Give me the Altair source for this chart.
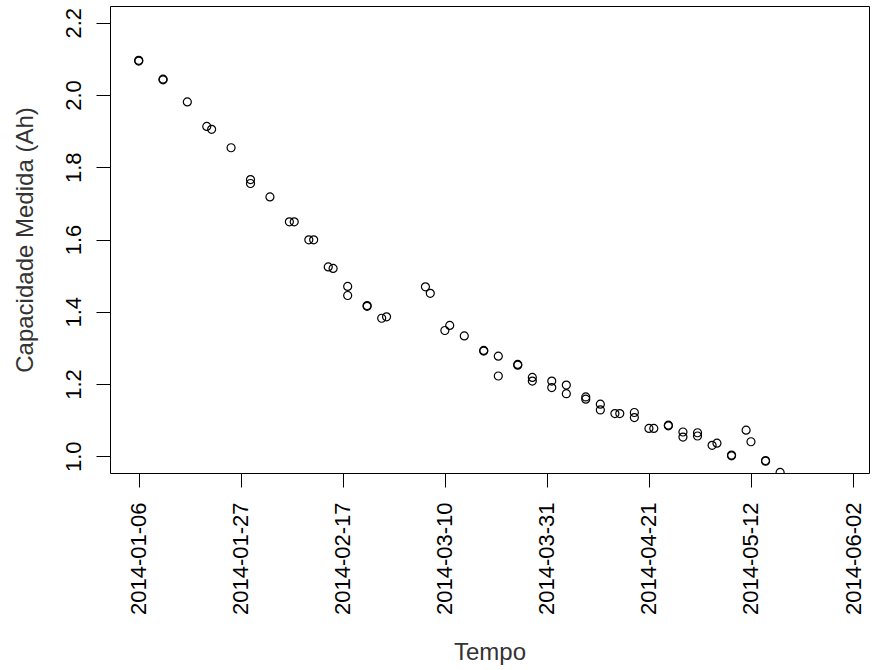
import altair as alt
import pandas as pd

# ---- data ----
dates = [
    "2014-01-06", "2014-01-06", "2014-01-11", "2014-01-11", "2014-01-16",
    "2014-01-20", "2014-01-21", "2014-01-25", "2014-01-29", "2014-01-29",
    "2014-02-02", "2014-02-06", "2014-02-07", "2014-02-10", "2014-02-11",
    "2014-02-14", "2014-02-15", "2014-02-18", "2014-02-18", "2014-02-22",
    "2014-02-22", "2014-02-25", "2014-02-26", "2014-03-06", "2014-03-07",
    "2014-03-10", "2014-03-11", "2014-03-14", "2014-03-18", "2014-03-18",
    "2014-03-21", "2014-03-21", "2014-03-25", "2014-03-25", "2014-03-28",
    "2014-03-28", "2014-04-01", "2014-04-01", "2014-04-04", "2014-04-04",
    "2014-04-08", "2014-04-08", "2014-04-11", "2014-04-11", "2014-04-14",
    "2014-04-15", "2014-04-18", "2014-04-18", "2014-04-21", "2014-04-22",
    "2014-04-25", "2014-04-25", "2014-04-28", "2014-04-28", "2014-05-01",
    "2014-05-01", "2014-05-04", "2014-05-05", "2014-05-08", "2014-05-08",
    "2014-05-11", "2014-05-12", "2014-05-15", "2014-05-15", "2014-05-18",
]
capacity = [
    2.094, 2.096, 2.042, 2.044, 1.981,
    1.913, 1.905, 1.854, 1.766, 1.755,
    1.718, 1.649, 1.649, 1.599, 1.599,
    1.524, 1.520, 1.470, 1.445, 1.415,
    1.417, 1.382, 1.386, 1.469, 1.451,
    1.348, 1.362, 1.333, 1.291, 1.293,
    1.277, 1.222, 1.252, 1.254, 1.218,
    1.208, 1.208, 1.190, 1.197, 1.173,
    1.164, 1.158, 1.144, 1.128, 1.118,
    1.118, 1.121, 1.107, 1.077, 1.077,
    1.084, 1.086, 1.067, 1.053, 1.065,
    1.056, 1.030, 1.036, 1.001, 1.003,
    1.072, 1.040, 0.986, 0.988, 0.955,
]
x_tick_dates = ["2014-01-06", "2014-01-27", "2014-02-17", "2014-03-10",
                "2014-03-31", "2014-04-21", "2014-05-12", "2014-06-02"]
y_tick_values = [1.0, 1.2, 1.4, 1.6, 1.8, 2.0, 2.2]

df = pd.DataFrame({"Tempo": dates, "Capacidade": capacity})


def utc_dt(s, hours=0):
    y, m, d = (int(p) for p in s.split("-"))
    return alt.DateTime(year=y, month=m, date=d, hours=hours, utc=True)


x_domain = [utc_dt("2013-12-31", 2), utc_dt("2014-06-05", 7)]
y_domain = [0.9535, 2.2465]

FONT = "Liberation Sans"

chart = (
    alt.Chart(df)
    .mark_point(shape="circle", filled=False, color="black", size=64,
                strokeWidth=1.2, opacity=1, clip=True)
    .encode(
        x=alt.X(
            "Tempo:T",
            scale=alt.Scale(type="utc", domain=x_domain, nice=False),
            axis=alt.Axis(
                values=[utc_dt(s) for s in x_tick_dates],
                labelExpr="utcFormat(datum.value, '%Y-%m-%d')",
                labelAngle=270,
                labelAlign="right",
                labelBaseline="middle",
                labelPadding=15,
                labelFontSize=22,
                labelOverlap=False,
                title="Tempo",
                titleFontSize=24,
                titleX=379.5,
                titleY=186,
                titleAlign="center",
                titleBaseline="alphabetic",
            ),
        ),
        y=alt.Y(
            "Capacidade:Q",
            scale=alt.Scale(domain=y_domain, nice=False, zero=False),
            axis=alt.Axis(
                values=y_tick_values,
                format=".1f",
                labelAngle=270,
                labelAlign="center",
                labelBaseline="alphabetic",
                labelPadding=16,
                labelFontSize=22,
                labelOverlap=False,
                title="Capacidade Medida (Ah)",
                titleFontSize=24,
                titleAngle=270,
                titleX=-78,
                titleY=233.5,
                titleAlign="center",
                titleBaseline="alphabetic",
            ),
        ),
    )
    .properties(
        width=759,
        height=467,
        autosize=alt.AutoSizeParams(type="none"),
        padding={"left": 110, "top": 6, "right": 3, "bottom": 197},
        background="white",
    )
    .configure_view(stroke="black", strokeWidth=1)
    .configure_axis(
        grid=False,
        domain=False,
        ticks=True,
        tickSize=14,
        tickColor="black",
        tickWidth=1,
        labelFont=FONT,
        labelColor="black",
        titleFont=FONT,
        titleColor="#333333",
        titleFontWeight="normal",
    )
)

chart.save("out.html", embed_options={"renderer": "svg", "actions": False})
